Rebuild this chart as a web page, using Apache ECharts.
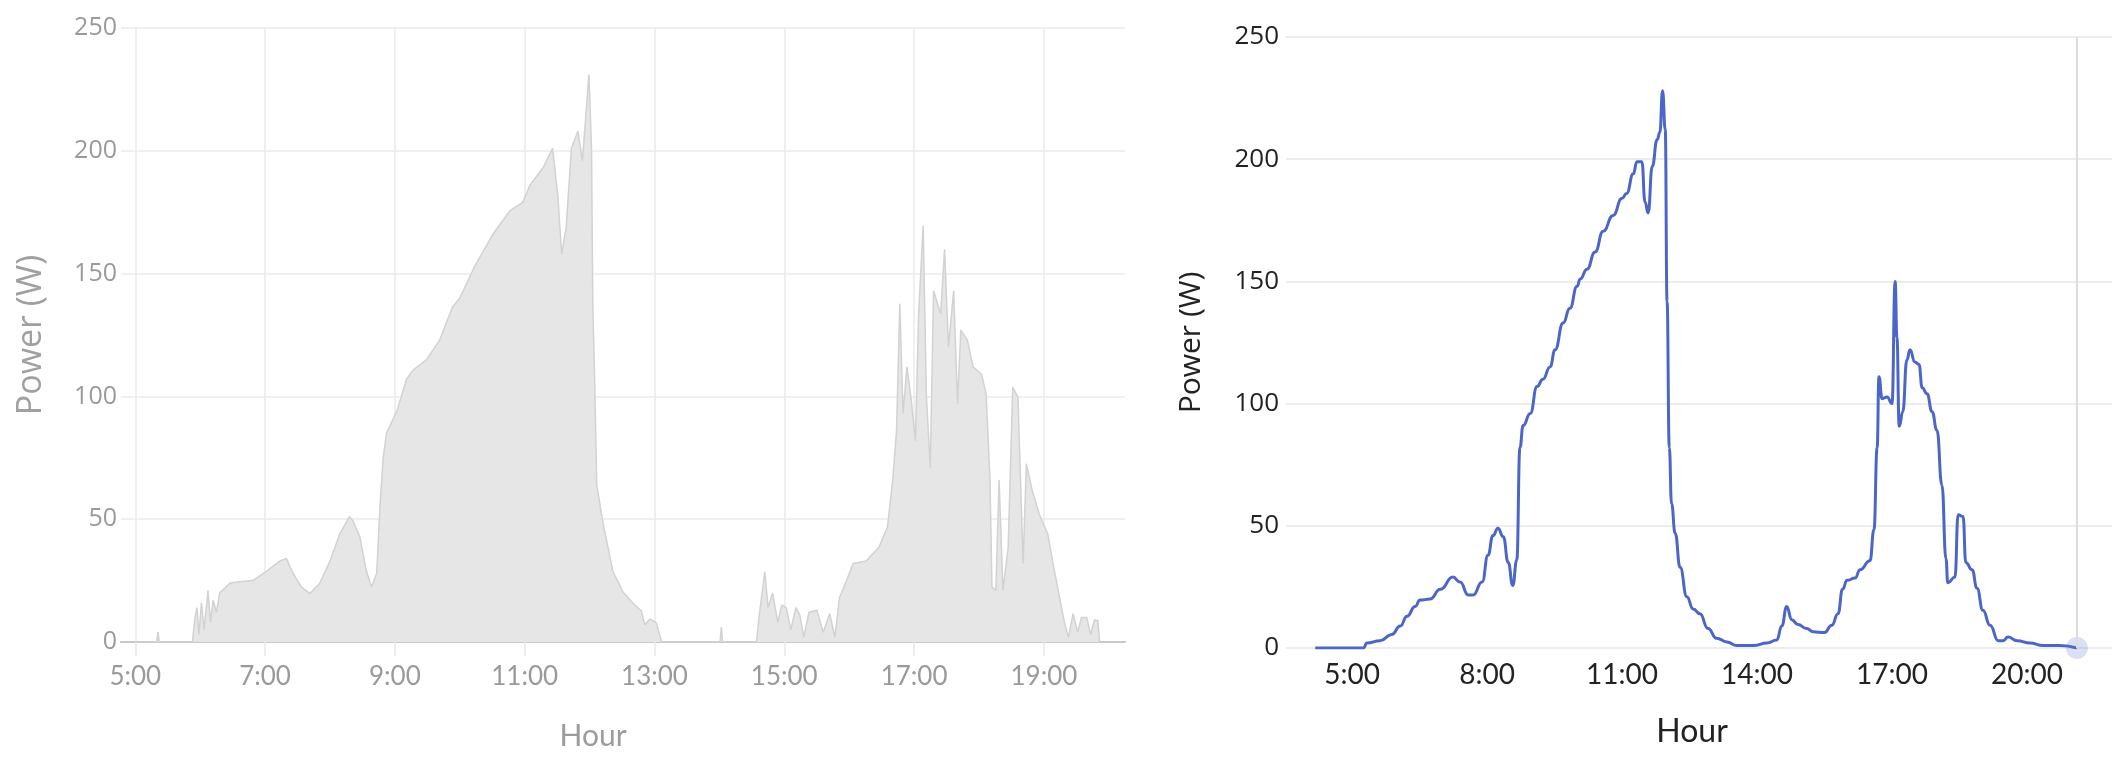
<!DOCTYPE html>
<html>
<head>
<meta charset="utf-8">
<title>Power by hour</title>
<script src="https://cdn.jsdelivr.net/npm/echarts@6.0.0/dist/echarts.min.js"></script>
<style>
  html, body { margin: 0; padding: 0; background: #fff; }
  #main { width: 2126px; height: 758px; }
</style>
</head>
<body>
<div id="main"></div>
<script>
// left panel: raw measurement (hour of day, W)
var leftHours = [5.05, 5.33, 5.35, 5.37, 5.88, 5.92, 5.95, 5.98, 6.02, 6.06, 6.12, 6.16, 6.20, 6.25, 6.30, 6.38,
  6.46, 6.61, 6.81, 7.03, 7.23, 7.33, 7.43, 7.56, 7.69, 7.84, 8.00, 8.15, 8.30, 8.35, 8.46, 8.56, 8.64, 8.72,
  8.77, 8.82, 8.87, 9.03, 9.18, 9.28, 9.49, 9.69, 9.89, 10.00, 10.23, 10.51, 10.77, 10.97, 11.08, 11.28, 11.43,
  11.51, 11.57, 11.64, 11.72, 11.82, 11.89, 11.95, 11.99, 12.03, 12.05, 12.08, 12.11, 12.21, 12.36, 12.51,
  12.67, 12.80, 12.85, 12.93, 13.03, 13.11, 14.01, 14.03, 14.05, 14.57, 14.62, 14.70, 14.75, 14.82, 14.90,
  14.96, 15.03, 15.10, 15.18, 15.24, 15.30, 15.38, 15.50, 15.60, 15.70, 15.78, 15.85, 15.96, 16.06, 16.26,
  16.46, 16.59, 16.67, 16.73, 16.78, 16.83, 16.89, 16.95, 17.02, 17.07, 17.14, 17.19, 17.25, 17.30, 17.41,
  17.47, 17.53, 17.61, 17.67, 17.72, 17.82, 17.91, 18.04, 18.11, 18.17, 18.20, 18.26, 18.31, 18.37, 18.45,
  18.52, 18.60, 18.68, 18.73, 18.82, 18.93, 19.06, 19.14, 19.25, 19.32, 19.38, 19.45, 19.52, 19.58, 19.66,
  19.72, 19.78, 19.83, 19.86];
var leftPower = [0, 0, 4, 0, 0, 10, 14, 3, 16, 5, 21, 8, 17, 12, 20, 22,
  24, 24.5, 25, 29, 33, 34, 28, 22.4, 19.7, 23.8, 33, 44, 51, 49.6, 42.8, 29, 22.4, 28,
  55, 75, 85, 94, 107, 110.7, 115, 123, 136.5, 140, 153, 166, 175.5, 179, 186, 193, 201,
  182, 158, 169, 201, 208, 196, 217, 231, 201, 137, 104.5, 64, 48, 28.7, 20.6,
  15.8, 12.6, 7, 9.4, 7.7, 0, 0, 6, 0, 0, 12, 28.7, 14, 20, 8,
  15, 14, 5, 14, 11, 2, 12, 13, 4, 11.5, 2, 18, 25, 32, 33,
  38.7, 46.8, 65.8, 86, 137.7, 93, 112, 100, 82, 133.6, 169.6, 100, 71, 143, 133.6,
  160, 120, 143, 97, 127, 123, 112, 109, 101, 66, 22.4, 21, 66, 21, 38.7,
  103.8, 99.7, 32, 72.6, 61.7, 52, 44, 32, 17, 7.5, 2, 11.5, 4, 10, 10,
  3, 9, 8.8, 0];

// right panel: smoothed profile
var rightHours = [4.18, 5.25, 5.33, 5.62, 5.88, 6.07, 6.22, 6.40, 6.51, 6.73, 6.96, 7.24, 7.40, 7.58, 7.69,
  7.89, 8.02, 8.13, 8.24, 8.36, 8.47, 8.57, 8.66, 8.73, 8.80, 8.96, 9.11, 9.24, 9.40, 9.51, 9.69, 9.84,
  10.00, 10.07, 10.22, 10.40, 10.58, 10.80, 11.00, 11.10, 11.25, 11.33, 11.44, 11.51, 11.58, 11.67, 11.78,
  11.84, 11.90, 11.96, 12.00, 12.05, 12.10, 12.18, 12.29, 12.44, 12.58, 12.73, 12.91, 13.10, 13.33, 13.55,
  13.92, 14.22, 14.44, 14.55, 14.66, 14.77, 14.91, 15.10, 15.25, 15.50, 15.66, 15.80, 15.90, 16.00, 16.18,
  16.29, 16.51, 16.60, 16.67, 16.71, 16.78, 16.89, 17.00, 17.07, 17.11, 17.16, 17.24, 17.33, 17.40, 17.51,
  17.60, 17.67, 17.78, 17.89, 18.00, 18.11, 18.20, 18.24, 18.40, 18.47, 18.58, 18.64, 18.78, 18.89, 19.02,
  19.18, 19.36, 19.47, 19.58, 19.78, 20.07, 20.36, 20.73, 21.11];
var rightPower = [0, 0, 2, 3, 5.5, 9, 13, 17, 19.6, 20, 24, 29, 27, 21.7, 21.7,
  27, 38, 46, 49, 45.5, 35, 25.6, 36, 82, 91, 96, 107, 110, 115, 122, 133, 139,
  148, 151, 155, 162, 170.5, 177, 184, 186, 194, 199, 199, 182.5, 178, 197, 208,
  211, 228, 212, 142, 82, 59, 47, 33, 21, 16, 14, 8, 4, 2.5, 1,
  1, 2, 3.3, 9, 17, 11.6, 9.6, 8, 6.6, 6.3, 9.3, 14, 24, 27.7, 28.6,
  32, 35.7, 48.5, 82, 111, 102, 102.7, 100, 150, 127, 90.7, 96.7, 117.8, 122, 117,
  116, 106.5, 104, 96.7, 89, 66.6, 36.4, 26.7, 29, 54.5, 53.8, 35, 32, 24.4, 15.4,
  9.3, 3, 3, 4.5, 3, 2, 1, 1, 0];

var leftTicks = [5, 7, 9, 11, 13, 15, 17, 19];
var rightTicks = [5, 8, 11, 14, 17, 20];
var powerTicks = [0, 50, 100, 150, 200, 250];

function pairs(xs, ys) {
  return xs.map(function (x, i) { return [x, ys[i]]; });
}
function hourLabel(v) {
  return Math.round(v) + ':00';
}

var chart = echarts.init(document.getElementById('main'));
var last = rightHours.length - 1;

var option = {
  animation: false,
  backgroundColor: '#fff',
  grid: [
    { left: 121, right: 1001, top: 28, bottom: 116, outerBoundsMode: 'none' },
    { left: 1286, right: 14, top: 37, bottom: 110, outerBoundsMode: 'none' }
  ],
  xAxis: [
    {
      gridIndex: 0,
      type: 'value',
      min: 4.78,
      max: 20.25,
      name: 'Hour',
      nameLocation: 'middle',
      nameGap: 79,
      nameTextStyle: { color: '#9c9c9c', fontSize: 30, fontFamily: 'Lato', padding: [0, 60, 0, 0] },
      axisLine: { show: true, lineStyle: { color: '#c9c9c9', width: 2 } },
      axisTick: { show: true, length: 14, customValues: leftTicks, lineStyle: { color: '#e8e8e8', width: 1.5 } },
      axisLabel: {
        customValues: leftTicks,
        formatter: hourLabel,
        color: '#9a9a9a',
        fontSize: 26,
        fontFamily: 'Lato',
        margin: 22
      },
      splitLine: { show: true, lineStyle: { color: '#ebebeb', width: 1.5 } }
    },
    {
      gridIndex: 1,
      type: 'value',
      min: 3.53,
      max: 21.89,
      name: 'Hour',
      nameLocation: 'middle',
      nameGap: 68,
      nameTextStyle: { color: '#222', fontSize: 32, fontFamily: 'Lato', padding: [0, 14, 0, 0] },
      axisLine: { show: false },
      axisTick: { show: false, customValues: rightTicks },
      axisLabel: {
        customValues: rightTicks,
        formatter: hourLabel,
        color: '#222',
        fontSize: 28,
        fontFamily: 'Lato',
        margin: 13
      },
      splitLine: { show: false }
    }
  ],
  yAxis: [
    {
      gridIndex: 0,
      type: 'value',
      min: powerTicks[0],
      max: powerTicks[powerTicks.length - 1],
      interval: 50,
      name: 'Power (W)',
      nameLocation: 'middle',
      nameGap: 73,
      nameTextStyle: { color: '#a0a0a0', fontSize: 34, fontFamily: 'Open Sans' },
      axisLine: { show: false },
      axisTick: { show: false },
      axisLabel: { color: '#9a9a9a', fontSize: 25, fontFamily: 'Open Sans', margin: 4 },
      splitLine: { show: true, lineStyle: { color: '#ebebeb', width: 1.5 } }
    },
    {
      gridIndex: 1,
      type: 'value',
      min: powerTicks[0],
      max: powerTicks[powerTicks.length - 1],
      interval: 50,
      name: 'Power (W)',
      nameLocation: 'middle',
      nameGap: 80,
      nameTextStyle: { color: '#222', fontSize: 30, fontFamily: 'Open Sans' },
      axisLine: { show: false },
      axisTick: { show: false },
      axisLabel: { color: '#222', fontSize: 26, fontFamily: 'Open Sans', margin: 7 },
      splitLine: { show: true, lineStyle: { color: '#ededed', width: 2 } }
    }
  ],
  series: [
    {
      name: 'measured',
      type: 'line',
      xAxisIndex: 0,
      yAxisIndex: 0,
      data: pairs(leftHours, leftPower),
      showSymbol: false,
      lineStyle: { color: '#d2d2d2', width: 1.5 },
      areaStyle: { color: '#e6e6e6', opacity: 1 },
      z: 3
    },
    {
      name: 'smoothed',
      type: 'line',
      xAxisIndex: 1,
      yAxisIndex: 1,
      data: pairs(rightHours, rightPower),
      showSymbol: false,
      smooth: 0.5,
      smoothMonotone: 'x',
      lineStyle: { color: '#4c66c8', width: 3 },
      markLine: {
        silent: true,
        symbol: ['none', 'none'],
        label: { show: false },
        lineStyle: { color: '#dcdcdc', width: 2, type: 'solid' },
        data: [{ xAxis: rightHours[last] }]
      },
      z: 3
    },
    {
      name: 'cursor',
      type: 'scatter',
      xAxisIndex: 1,
      yAxisIndex: 1,
      data: [[rightHours[last], rightPower[last]]],
      symbolSize: 22,
      itemStyle: { color: 'rgba(90, 118, 214, 0.28)' },
      z: 4
    }
  ]
};

chart.setOption(option);
</script>
</body>
</html>
